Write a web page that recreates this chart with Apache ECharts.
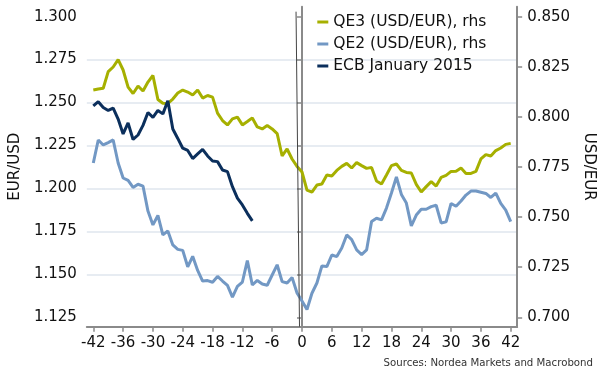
<!DOCTYPE html>
<html>
<head>
<meta charset="utf-8">
<script src="https://cdn.jsdelivr.net/npm/echarts@6/dist/echarts.min.js"></script>
<style>
html,body{margin:0;padding:0;background:#fff;}
#chart{width:604px;height:381px;}
</style>
</head>
<body>
<div id="chart"></div>
<script>
// QE3 (USD/EUR), rhs : weeks -42 .. 42
const qe3 = [
  0.8134,0.8139,0.8143,0.8226,0.8249,0.8286,0.8234,0.8149,0.8117,0.8154,
  0.8129,0.8174,0.8207,0.8087,0.8068,0.8067,0.8089,0.8119,0.8134,0.8124,
  0.8109,0.8134,0.8094,0.8107,0.8099,0.8019,0.7982,0.7960,0.7990,0.7999,
  0.7960,0.7977,0.7995,0.7950,0.7940,0.7957,0.7940,0.7917,0.7805,0.7840,
  0.7790,0.7753,0.7725,0.7635,0.7625,0.7660,0.7665,0.7710,0.7705,0.7733,
  0.7753,0.7768,0.7745,0.7772,0.7757,0.7743,0.7748,0.7680,0.7665,0.7710,
  0.7757,0.7765,0.7733,0.7723,0.7720,0.7663,0.7625,0.7652,0.7677,0.7655,
  0.7698,0.7708,0.7728,0.7729,0.7745,0.7718,0.7718,0.7728,0.7790,0.7812,
  0.7805,0.7832,0.7845,0.7863,0.7868
];
// QE2 (USD/EUR), rhs : weeks -42 .. 42
const qe2 = [
  0.7770,0.7885,0.7860,0.7872,0.7885,0.7770,0.7695,0.7683,0.7648,0.7664,
  0.7655,0.7530,0.7461,0.7508,0.7411,0.7431,0.7361,0.7339,0.7334,0.7252,
  0.7304,0.7234,0.7181,0.7183,0.7175,0.7204,0.7181,0.7159,0.7101,0.7154,
  0.7176,0.7283,0.7161,0.7184,0.7166,0.7160,0.7211,0.7262,0.7178,0.7171,
  0.7199,0.7121,0.7081,0.7039,0.7120,0.7171,0.7256,0.7253,0.7311,0.7303,
  0.7346,0.7411,0.7388,0.7336,0.7313,0.7336,0.7478,0.7494,0.7486,0.7545,
  0.7620,0.7700,0.7613,0.7570,0.7456,0.7510,0.7539,0.7539,0.7552,0.7559,
  0.7471,0.7476,0.7568,0.7554,0.7580,0.7610,0.7630,0.7630,0.7624,0.7618,
  0.7598,0.7620,0.7568,0.7535,0.7477
];
// ECB January 2015 (EUR/USD) : weeks -42 .. -10
const ecb = [
  1.2480,1.2505,1.2471,1.2454,1.2468,1.2404,1.2317,1.2381,1.2285,1.2311,
  1.2367,1.2442,1.2414,1.2454,1.2434,1.2511,1.2346,1.2291,1.2234,1.2221,
  1.2174,1.2201,1.2227,1.2189,1.2160,1.2156,1.2107,1.2098,1.2010,1.1943,
  1.1904,1.1855,1.1811
];
const firstWeek = -42;
const xTicks = [-42,-36,-30,-24,-18,-12,-6,0,6,12,18,24,30,36,42];
const leftTicks = [1.125,1.150,1.175,1.200,1.225,1.250,1.275,1.300];
const rightTicks = [0.700,0.725,0.750,0.775,0.800,0.825,0.850];
const seriesNames = ['QE3 (USD/EUR), rhs','QE2 (USD/EUR), rhs','ECB January 2015'];
const sourceText = 'Sources: Nordea Markets and Macrobond';
// event line (week 0 annotation), in data units of left axis
const eventLine = {xTop: -1.2, yTop: 1.3029, xBottom: -0.5, yBottom: 1.1195};

const toPairs = arr => arr.map((v, i) => [firstWeek + i, v]);

const FONT = 'DejaVu Sans';
const axisColor = '#8a8a8a';
const txt = '#111';

const chart = echarts.init(document.getElementById('chart'), null, {renderer: 'canvas'});
chart.setOption({
  animation: false,
  backgroundColor: '#fff',
  textStyle: {fontFamily: FONT},
  title: {
    text: sourceText, right: 11, top: 358, padding: 0,
    textStyle: {fontSize: 10.2, fontWeight: 'normal', color: '#333', fontFamily: FONT}
  },
  legend: {
    orient: 'vertical', left: 317.3, top: 14, padding: 0,
    itemWidth: 11, itemHeight: 3, itemGap: 6, icon: 'rect',
    textStyle: {fontSize: 15.5, color: txt, fontFamily: FONT},
    data: seriesNames
  },
  grid: {left: 80.7, right: 81, top: 6.7, bottom: 54.3, containLabel: false},
  xAxis: {
    type: 'value', min: -43.3, max: 43.3, interval: 6,
    axisLine: {show: true, lineStyle: {color: axisColor, width: 2}},
    axisTick: {show: true, length: 5, customValues: xTicks, lineStyle: {color: axisColor, width: 1.5}},
    axisLabel: {customValues: xTicks, fontSize: 15, color: txt, margin: 9, fontFamily: FONT},
    splitLine: {show: false}
  },
  yAxis: [
    {
      type: 'value', position: 'left', min: 1.1195, max: 1.3058, interval: 0.025,
      name: 'EUR/USD', nameLocation: 'middle', nameGap: 57,
      nameTextStyle: {fontSize: 15, color: txt, fontFamily: FONT},
      axisLine: {show: true, lineStyle: {color: axisColor, width: 2}},
      axisTick: {show: true, length: 5, customValues: leftTicks, lineStyle: {color: axisColor, width: 1.5}},
      axisLabel: {customValues: leftTicks, fontSize: 15, color: txt, margin: 10, fontFamily: FONT,
                  formatter: v => v.toFixed(3)},
      splitLine: {show: true, showMinLine: false, showMaxLine: false,
                  lineStyle: {color: '#dfe6ee', width: 1.5}}
    },
    {
      type: 'value', position: 'right', min: 0.6953, max: 0.855, interval: 0.025,
      name: 'USD/EUR', nameLocation: 'middle', nameGap: 57, nameRotate: -90,
      nameTextStyle: {fontSize: 15, color: txt, fontFamily: FONT},
      axisLine: {show: true, lineStyle: {color: axisColor, width: 2}},
      axisTick: {show: true, length: 5, customValues: rightTicks, lineStyle: {color: axisColor, width: 1.5}},
      axisLabel: {customValues: rightTicks, fontSize: 15, color: txt, margin: 10, fontFamily: FONT,
                  formatter: v => v.toFixed(3)},
      splitLine: {show: false}
    }
  ],
  series: [
    {
      name: seriesNames[0], type: 'line', yAxisIndex: 1, data: toPairs(qe3),
      showSymbol: false, symbol: 'none', color: '#a6b000',
      lineStyle: {width: 3, color: '#a6b000'}
    },
    {
      name: seriesNames[1], type: 'line', yAxisIndex: 1, data: toPairs(qe2),
      showSymbol: false, symbol: 'none', color: '#7298c4',
      lineStyle: {width: 3, color: '#7298c4'}
    },
    {
      name: seriesNames[2], type: 'line', yAxisIndex: 0, data: toPairs(ecb),
      showSymbol: false, symbol: 'none', color: '#0b2f5c',
      lineStyle: {width: 3, color: '#0b2f5c'},
      markLine: {
        silent: true, symbol: 'none', label: {show: false},
        lineStyle: {color: '#444', width: 1, type: 'solid'},
        data: [[{coord: [eventLine.xTop, eventLine.yTop]}, {coord: [eventLine.xBottom, eventLine.yBottom]}]]
      }
    }
  ]
});
</script>
</body>
</html>
